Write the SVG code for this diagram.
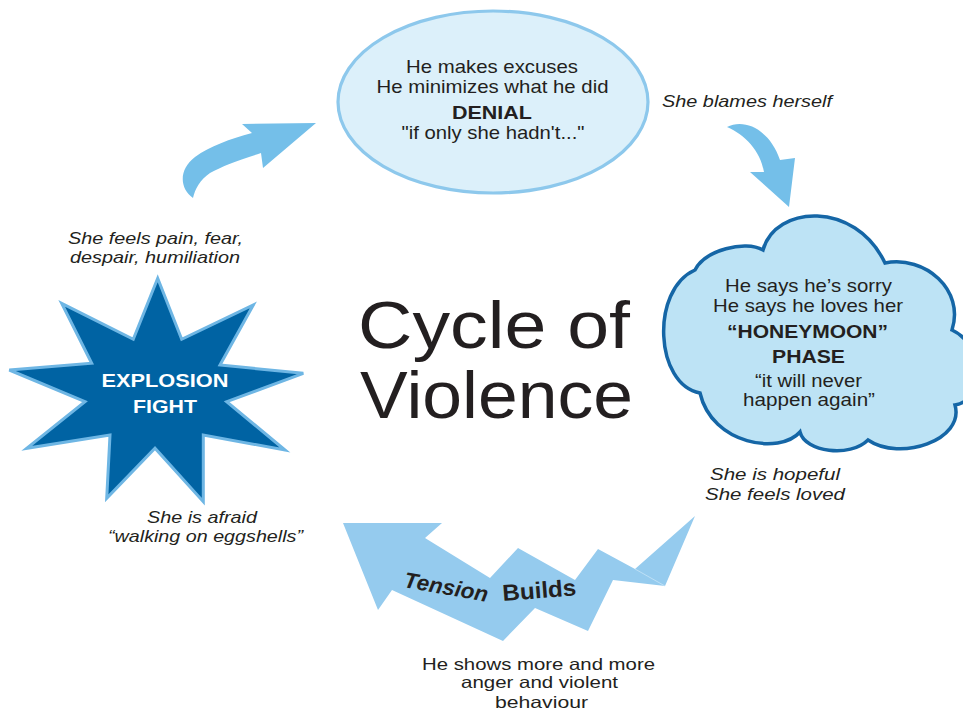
<svg xmlns="http://www.w3.org/2000/svg" width="963" height="712" viewBox="0 0 963 712">
  <style>
    text { font-family: "Liberation Sans", Arial, sans-serif; fill: #231F20; }
    .body { font-size: 19px; text-anchor: middle; }
    .tight { font-size: 17.5px; text-anchor: middle; }
    .bold { font-weight: bold; }
    .note { font-size: 16.5px; font-style: italic; text-anchor: middle; }
    .small { font-size: 16.5px; text-anchor: middle; }
    .title { font-size: 66px; text-anchor: middle; }
    .star-label { font-size: 19px; font-weight: bold; fill: #FFFFFF; text-anchor: middle; }
    .curl { fill: #74BFE9; }
    .zig { fill: #95CBEE; }
  </style>

  <rect width="963" height="712" fill="#FFFFFF"/>

  <!-- connectors: curved arrows and the zig-zag tension arrow -->
  <g id="connectors">
    <path class="curl" d="M193,198 C179,188 179,169 195,157 C210,146 230,139 252,133 L242,124 L316,123 L263,168 L261,153 C240,160 222,166 210,173 C200,180 195,189 193,198 Z"/>
    <path class="curl" d="M727,127 C745,118 770,130 780,160 L795,158 L789,207 L750,172 L764,172 C760,150 745,135 727,127 Z"/>
    <path class="zig" d="M343,523 L442,523 L425,538 L490,578 L518,548 L575,580 L598,549 L635,569 L695,516 L665,586 L613,580 L588,631 L535,608 L503,641 L392,590 L378,610 Z"/>
    <line x1="635" y1="569" x2="665" y2="586" stroke="#C6E4F7" stroke-width="0.8"/>
  </g>

  <!-- denial phase -->
  <g id="denial">
    <ellipse cx="493" cy="102" rx="155" ry="91" fill="#DCF0FA" stroke="#8DC8EC" stroke-width="3.2"/>
    <text class="body" x="492" y="73" textLength="172" lengthAdjust="spacingAndGlyphs">He makes excuses</text>
    <text class="body" x="492.5" y="93" textLength="232" lengthAdjust="spacingAndGlyphs">He minimizes what he did</text>
    <text class="body bold" x="492" y="119" textLength="80" lengthAdjust="spacingAndGlyphs">DENIAL</text>
    <text class="body" x="493" y="139" textLength="183" lengthAdjust="spacingAndGlyphs">"if only she hadn't..."</text>
  </g>

  <!-- honeymoon phase -->
  <g id="honeymoon">
    <path d="M763,250 C775,205 855,200 885,263 C925,255 965,290 952,330 C985,345 985,400 955,405 C965,440 900,462 868,440 C850,458 805,452 800,432 C780,455 712,445 700,393 C655,385 650,290 695,270 C705,250 745,240 763,250 Z" fill="#BDE3F5" stroke="#1566A6" stroke-width="3.5"/>
    <text class="body" x="808.5" y="292" textLength="167" lengthAdjust="spacingAndGlyphs">He says he’s sorry</text>
    <text class="body" x="808" y="312" textLength="190" lengthAdjust="spacingAndGlyphs">He says he loves her</text>
    <text class="body bold" x="807.5" y="338" textLength="161" lengthAdjust="spacingAndGlyphs">“HONEYMOON”</text>
    <text class="body bold" x="808.5" y="363" textLength="73" lengthAdjust="spacingAndGlyphs">PHASE</text>
    <text class="tight" x="808.5" y="387" textLength="107" lengthAdjust="spacingAndGlyphs">“it will never</text>
    <text class="tight" x="809" y="406" textLength="132" lengthAdjust="spacingAndGlyphs">happen again”</text>
  </g>

  <!-- explosion phase -->
  <g id="explosion">
    <polygon points="157.7,278.3 181.7,339.3 253.3,305 220,365 303.3,373.3 226.7,401.7 285,450 203.3,435 203.3,501.7 155,448.3 106.7,498.3 110,435 26.7,448.3 85,401.7 9.3,370 91.7,363.3 61.7,303.3 133.3,339.3" fill="#0063A3" stroke="#6EB6E4" stroke-width="3" stroke-linejoin="miter"/>
    <text class="star-label" x="165" y="387" textLength="127" lengthAdjust="spacingAndGlyphs">EXPLOSION</text>
    <text class="star-label" x="165" y="413" textLength="64" lengthAdjust="spacingAndGlyphs">FIGHT</text>
  </g>

  <!-- tension building phase -->
  <g id="tension">
    <text class="bold" font-size="22" font-style="italic" transform="translate(403,587) rotate(10)" textLength="85" lengthAdjust="spacingAndGlyphs">Tension</text>
    <text class="bold" font-size="23" transform="translate(503,601) rotate(-4.5)" textLength="74" lengthAdjust="spacingAndGlyphs">Builds</text>
  </g>

  <!-- centre title -->
  <g id="title">
    <text class="title" x="494" y="348" textLength="272" lengthAdjust="spacingAndGlyphs">Cycle of</text>
    <text class="title" x="496.5" y="418" textLength="273" lengthAdjust="spacingAndGlyphs">Violence</text>
  </g>

  <!-- her responses and his behaviour -->
  <g id="notes">
    <text class="note" x="747" y="107" textLength="170" lengthAdjust="spacingAndGlyphs">She blames herself</text>
    <text class="note" x="775" y="480" textLength="130" lengthAdjust="spacingAndGlyphs">She is hopeful</text>
    <text class="note" x="775" y="500" textLength="140" lengthAdjust="spacingAndGlyphs">She feels loved</text>
    <text class="note" x="202" y="523" textLength="110" lengthAdjust="spacingAndGlyphs">She is afraid</text>
    <text class="note" x="205.5" y="542" textLength="195" lengthAdjust="spacingAndGlyphs">“walking on eggshells”</text>
    <text class="note" x="155.5" y="244" textLength="175" lengthAdjust="spacingAndGlyphs">She feels pain, fear,</text>
    <text class="note" x="155" y="263" textLength="170" lengthAdjust="spacingAndGlyphs">despair, humiliation</text>
    <text class="small" x="538.5" y="670" textLength="233" lengthAdjust="spacingAndGlyphs">He shows more and more</text>
    <text class="small" x="539.5" y="688" textLength="157" lengthAdjust="spacingAndGlyphs">anger and violent</text>
    <text class="small" x="541.5" y="708" textLength="93" lengthAdjust="spacingAndGlyphs">behaviour</text>
  </g>
</svg>
